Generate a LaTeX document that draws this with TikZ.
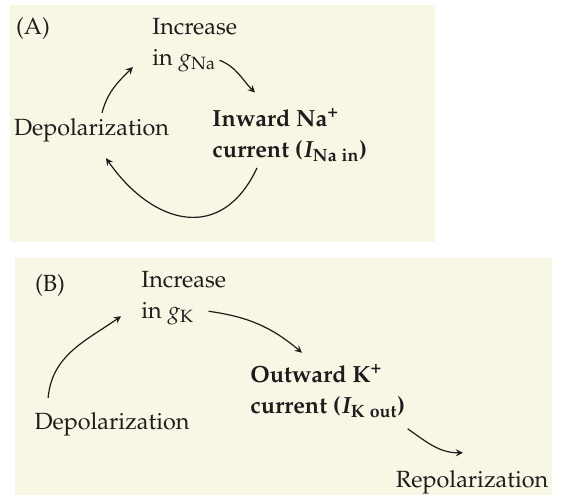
\documentclass[tikz,border=0pt]{standalone}
\usepackage[T1]{fontenc}
\usepackage{mathpazo}
\usetikzlibrary{arrows}
\definecolor{panelcolor}{RGB}{248,246,228}
\definecolor{inkcolor}{RGB}{30,28,28}

\begin{document}
\begin{tikzpicture}[
    x=0.5pt, y=0.5pt,
    panel/.style={fill=panelcolor, draw=none},
    txt/.style={inner sep=0pt, text=inkcolor, font=\fontsize{11.7}{15.5}\selectfont},
    boldtxt/.style={txt, font=\fontsize{11.7}{15.5}\selectfont\bfseries\boldmath},
    multi/.style={align=left, anchor=west},
    arrow/.style={->,>=stealth,line width=0.6pt,draw=inkcolor}
]

\useasboundingbox (0,0) rectangle (564,-497);

% Panels
\path[panel] (10,-5) rectangle (435,-242);
\path[panel] (15,-258) rectangle (552,-495);

% Panel A
\node[txt] (labA) at (33,-28) {(A)};
\node[txt, multi] (incA) at (152,-45) {Increase\\in $g_{\mathrm{Na}}$};
\node[txt] (depA) at (91.5,-130) {Depolarization};
\node[boldtxt, multi] (curA) at (212,-135) {Inward Na\textsuperscript{+}\\current ($I_{\mathrm{Na\;in}}$)};

\draw[arrow] ([shift={(10.5,5)}]depA.north) to[out=75,in=-135] ([shift={(-19,-22)}]incA.west);
\draw[arrow] ([shift={(-18,12)}]incA.south east) to[out=-22,in=135] ([shift={(43,15.5)}]curA.north west);
\draw[arrow] ([shift={(45,-6)}]curA.south west) to[out=-115,in=-55,looseness=1.4] ([shift={(14.5,-16)}]depA.south);

% Panel B
\node[txt] (labB) at (50,-285) {(B)};
\node[txt, multi] (incB) at (141,-298) {Increase\\in $g_{\mathrm{K}}$};
\node[txt] (depB) at (112,-424) {Depolarization};
\node[boldtxt, multi] (outB) at (250,-391) {Outward K\textsuperscript{+}\\current ($I_{\mathrm{K\;out}}$)};
\node[txt] (repB) at (472,-482) {Repolarization};

\draw[arrow] ([shift={(14,14)}]depB.north west) to[out=85,in=-145] ([shift={(-20,9)}]incB.south west);
\draw[arrow] ([shift={(-18,14)}]incB.south east) to[out=-8,in=140] ([shift={(52,11.5)}]outB.north west);
\draw[arrow] ([shift={(2,-11)}]outB.south east) to[out=-35,in=180] ([shift={(-9,17)}]repB.north);

\end{tikzpicture}
\end{document}
